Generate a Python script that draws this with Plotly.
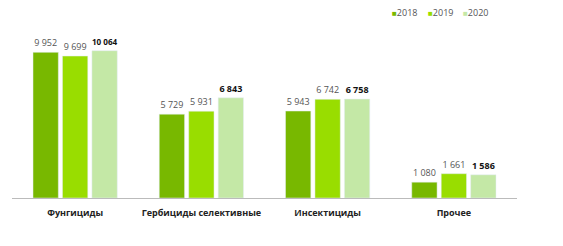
import plotly.graph_objects as go

categories = ["Фунгициды", "Гербициды селективные", "Инсектициды", "Прочее"]
years = ["2018", "2019", "2020"]
v2018 = [9952, 5729, 5943, 1080]
v2019 = [9699, 5931, 6742, 1661]
v2020 = [10064, 6843, 6758, 1586]

colors = ["#78b800", "#99dd00", "#c4e8a6"]
series = [v2018, v2019, v2020]
legend_x = [0.778, 0.848, 0.917]

fig = go.Figure()
for i, (yr, vals, col) in enumerate(zip(years, series, colors)):
    bold = i == 2
    fig.add_trace(go.Bar(
        x=categories, y=vals, name=yr, marker_color=col, showlegend=False,
        texttemplate="<b>%{y:,}</b>" if bold else "%{y:,}",
        textposition="outside", cliponaxis=False,
        textfont=dict(size=9, color="#111" if bold else "#555", family="Open Sans"),
    ))
    fig.add_annotation(
        x=legend_x[i], y=1.155, xref="paper", yref="paper",
        xanchor="center", yanchor="middle", showarrow=False,
        text=f"<span style='color:{col};font-size:8px'>■</span>{yr}",
        font=dict(size=9, color="#555", family="Open Sans"),
    )

fig.update_layout(
    width=563, height=246,
    margin=dict(l=12, r=46, t=37, b=48),
    paper_bgcolor="white", plot_bgcolor="white",
    separators=", ",
    barmode="group", bargap=0.3, bargroupgap=0.14,
    font=dict(family="Open Sans", color="#333"),
    showlegend=False,
    xaxis=dict(showline=True, linecolor="#bbbbbb", linewidth=1, ticks="",
               ticklabelstandoff=6,
               tickfont=dict(size=9, color="#222", family="Open Sans", weight="bold"),
               showgrid=False),
    yaxis=dict(range=[0, 11000], visible=False, showgrid=False, zeroline=False),
)

fig.write_html("out.html")
